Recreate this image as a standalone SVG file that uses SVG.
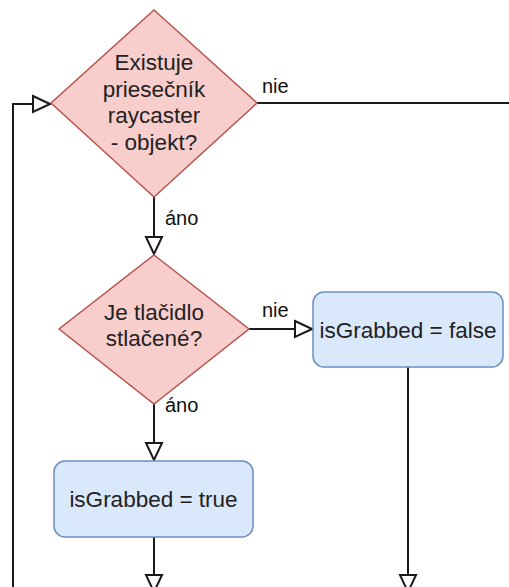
<svg xmlns="http://www.w3.org/2000/svg" width="509" height="587" viewBox="0 0 509 587">
<defs>
<marker id="arr" markerUnits="userSpaceOnUse" markerWidth="20" markerHeight="20" viewBox="0 0 20 20" refX="18" refY="10" orient="auto">
<path d="M1,2 L18,10 L1,18 Z" fill="#ffffff" stroke="#1a1a1a" stroke-width="2"/>
</marker>
<style>
.dec{fill:#f8cecc;stroke:#b85450;stroke-width:1.5}
.proc{fill:#dae8fc;stroke:#6c8ebf;stroke-width:1.5}
.t{font-family:"Liberation Sans",Arial,sans-serif;font-size:22.5px;fill:#222;text-anchor:middle}
.lbl{font-family:"Liberation Sans",Arial,sans-serif;font-size:20px;fill:#111}
.e{fill:none;stroke:#1a1a1a;stroke-width:2}
</style>
</defs>
<rect width="509" height="587" fill="#ffffff"/>
<g id="connectors">
<path class="e" d="M13,587 L13,104 L50,104" marker-end="url(#arr)"/>
<path class="e" d="M257,103 L509,103"/>
<path class="e" d="M154,197 L154,254" marker-end="url(#arr)"/>
<path class="e" d="M249,329 L312,329" marker-end="url(#arr)"/>
<path class="e" d="M154,404 L154,460" marker-end="url(#arr)"/>
<path class="e" d="M154,537 L154,592" marker-end="url(#arr)"/>
<path class="e" d="M408,367 L408,592" marker-end="url(#arr)"/>
<text class="lbl" x="262" y="93">nie</text>
<text class="lbl" x="165" y="225">áno</text>
<text class="lbl" x="262" y="317">nie</text>
<text class="lbl" x="165" y="412">áno</text>
</g>
<g id="d1">
<polygon class="dec" points="154,10 257,103 154,197 51,103"/>
<text class="t" x="154" y="70">Existuje</text>
<text class="t" x="154" y="97">priesečník</text>
<text class="t" x="154" y="123">raycaster</text>
<text class="t" x="154" y="150">- objekt?</text>
</g>
<g id="d2">
<polygon class="dec" points="154,255 249,329 154,404 59,329"/>
<text class="t" x="154" y="320">Je tlačidlo</text>
<text class="t" x="154" y="346">stlačené?</text>
</g>
<g id="bfalse">
<rect class="proc" x="313" y="292" width="190" height="75" rx="11"/>
<text class="t" x="408" y="338">isGrabbed = false</text>
</g>
<g id="btrue">
<rect class="proc" x="54" y="461" width="199" height="76" rx="11"/>
<text class="t" x="153.5" y="507">isGrabbed = true</text>
</g>
</svg>
